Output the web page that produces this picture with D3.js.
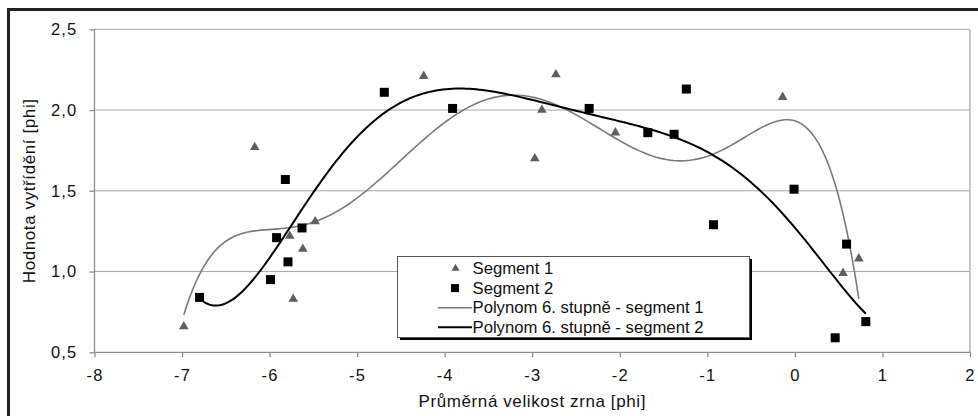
<!DOCTYPE html>
<html>
<head>
<meta charset="utf-8">
<script src="https://cdn.jsdelivr.net/npm/d3@7"></script>
<style>
  body { margin: 0; background: #fff; }
  svg text { font-family: 'Liberation Sans', Arial, sans-serif; fill: #111; }
</style>
</head>
<body>
<div id="chart"></div>
<script>
// data
var seg1X = [-6.98, -6.17, -5.77, -5.73, -5.62, -5.48, -4.24, -2.97, -2.89, -2.73, -2.05, -0.14, 0.55, 0.73]
var seg1Y = [0.66, 1.77, 1.22, 0.83, 1.14, 1.31, 2.21, 1.70, 2.00, 2.22, 1.86, 2.08, 0.99, 1.08]

var seg2X = [-6.80, -5.99, -5.92, -5.82, -5.79, -5.63, -4.69, -3.91, -2.35, -1.68, -1.38, -1.24, -0.93, -0.01, 0.46, 0.59, 0.81]
var seg2Y = [0.84, 0.95, 1.21, 1.57, 1.06, 1.27, 2.11, 2.01, 2.01, 1.86, 1.85, 2.13, 1.29, 1.51, 0.59, 1.17, 0.69]

var xTicks = [-8, -7, -6, -5, -4, -3, -2, -1, 0, 1, 2]
var yTicks = [0.5, 1.0, 1.5, 2.0, 2.5]

var legendLabels = ['Segment 1', 'Segment 2', 'Polynom 6. stupně - segment 1', 'Polynom 6. stupně - segment 2']

var xTitle = 'Průměrná velikost zrna [phi]'
var yTitle = 'Hodnota vytřídění [phi]'

// Set up margin/height/width
var totalWidth = 978
var totalHeight = 416
var margin = { top: 29.3, left: 94.5, right: 8, bottom: 63.7 }
var width = totalWidth - margin.left - margin.right
var height = totalHeight - margin.top - margin.bottom

var svg = d3
  .select('#chart')
  .append('svg')
  .attr('width', totalWidth)
  .attr('height', totalHeight)

// outer frame (only top and left visible)
svg
  .append('path')
  .attr('d', 'M8.5,' + totalHeight + 'V9.5H' + totalWidth)
  .attr('fill', 'none')
  .attr('stroke', '#222')
  .attr('stroke-width', 3)

var g = svg
  .append('g')
  .attr('transform', 'translate(' + margin.left + ',' + margin.top + ')')

var xPositionScale = d3
  .scaleLinear()
  .domain([-8, 2])
  .range([0, width])
var yPositionScale = d3
  .scaleLinear()
  .domain([0.5, 2.5])
  .range([height, 0])

// czech decimal comma, plain hyphen for minus
var fmtY = function(d) {
  return d.toFixed(1).replace('.', ',')
}
var fmtX = function(d) {
  return String(d)
}

// gridlines
g.selectAll('.grid')
  .data(yTicks.slice(1))
  .enter()
  .append('line')
  .attr('class', 'grid')
  .attr('x1', 0)
  .attr('x2', width)
  .attr('y1', function(d) {
    return yPositionScale(d)
  })
  .attr('y2', function(d) {
    return yPositionScale(d)
  })
  .attr('stroke', '#a6a6a6')
  .attr('stroke-width', 1)

// right border of plot area
g.append('line')
  .attr('x1', width)
  .attr('x2', width)
  .attr('y1', 0)
  .attr('y2', height)
  .attr('stroke', '#b4b4b4')
  .attr('stroke-width', 1.5)

var xAxis = d3
  .axisBottom(xPositionScale)
  .tickValues(xTicks)
  .tickSize(5)
  .tickPadding(12)
  .tickFormat(fmtX)

var xAxisG = g
  .append('g')
  .attr('class', 'axis x-axis')
  .attr('transform', 'translate(0,' + height + ')')
  .call(xAxis)

var yAxis = d3
  .axisLeft(yPositionScale)
  .tickValues(yTicks)
  .tickSize(5)
  .tickPadding(12)
  .tickFormat(fmtY)

var yAxisG = g
  .append('g')
  .attr('class', 'axis y-axis')
  .call(yAxis)

svg.selectAll('.axis path, .axis line').attr('stroke', '#8c8c8c').attr('stroke-width', 1.3)
svg.selectAll('.axis text')
  .attr('font-size', 16.5)
  .attr('letter-spacing', 1.2)
  .style('font-family', "'Liberation Sans', Arial, sans-serif")
  .attr('fill', '#111')
xAxisG.selectAll('path.domain').attr('d', 'M0,0H' + width)
yAxisG.selectAll('path.domain').attr('d', 'M0,0V' + height)

// axis titles
svg
  .append('text')
  .text(xTitle)
  .attr('x', margin.left + width / 2)
  .attr('y', 406.5)
  .attr('text-anchor', 'middle')
  .attr('font-size', 17)
  .attr('letter-spacing', 0.6)

svg
  .append('text')
  .text(yTitle)
  .attr('transform', 'translate(35,' + (margin.top + height / 2) + ') rotate(-90)')
  .attr('text-anchor', 'middle')
  .attr('font-size', 17)
  .attr('letter-spacing', 0.6)

// polynomial trendline (least squares, degree 6)
function polyfit(xs, ys, deg) {
  var mx = d3.mean(xs)
  var sx = d3.deviation(xs)
  var n = deg + 1
  var A = []
  var b = []
  for (var i = 0; i < n; i++) {
    A.push(new Array(n).fill(0))
    b.push(0)
  }
  xs.forEach(function(x, k) {
    var t = (x - mx) / sx
    var pw = []
    for (var i = 0; i < n; i++) pw.push(Math.pow(t, i))
    for (var i = 0; i < n; i++) {
      b[i] += pw[i] * ys[k]
      for (var j = 0; j < n; j++) A[i][j] += pw[i] * pw[j]
    }
  })
  // gaussian elimination
  for (var c = 0; c < n; c++) {
    var p = c
    for (var r = c + 1; r < n; r++) if (Math.abs(A[r][c]) > Math.abs(A[p][c])) p = r
    var tmp = A[c]; A[c] = A[p]; A[p] = tmp
    var tb = b[c]; b[c] = b[p]; b[p] = tb
    for (var r = c + 1; r < n; r++) {
      var f = A[r][c] / A[c][c]
      for (var j = c; j < n; j++) A[r][j] -= f * A[c][j]
      b[r] -= f * b[c]
    }
  }
  var coef = new Array(n).fill(0)
  for (var r = n - 1; r >= 0; r--) {
    var s = b[r]
    for (var j = r + 1; j < n; j++) s -= A[r][j] * coef[j]
    coef[r] = s / A[r][r]
  }
  return function(x) {
    var t = (x - mx) / sx
    var v = 0
    for (var i = n - 1; i >= 0; i--) v = v * t + coef[i]
    return v
  }
}

function trend(xs, ys) {
  var f = polyfit(xs, ys, 6)
  var lo = d3.min(xs)
  var hi = d3.max(xs)
  return d3.range(0, 201).map(function(i) {
    var x = lo + (hi - lo) * i / 200
    return { x: x, y: f(x) }
  })
}

var line = d3
  .line()
  .x(function(d) {
    return xPositionScale(d.x)
  })
  .y(function(d) {
    return yPositionScale(d.y)
  })

g.append('path')
  .datum(trend(seg1X, seg1Y))
  .attr('d', line)
  .attr('fill', 'none')
  .attr('stroke', '#7a7a7a')
  .attr('stroke-width', 1.6)

g.append('path')
  .datum(trend(seg2X, seg2Y))
  .attr('d', line)
  .attr('fill', 'none')
  .attr('stroke', '#000')
  .attr('stroke-width', 2)

var triangle = d3.symbol().type(d3.symbolTriangle).size(40)

g.selectAll('.seg1')
  .data(seg1X)
  .enter()
  .append('path')
  .attr('class', 'seg1')
  .attr('d', triangle)
  .attr('transform', function(d, i) {
    return 'translate(' + xPositionScale(d) + ',' + yPositionScale(seg1Y[i]) + ')'
  })
  .attr('fill', '#5e5e5e')

g.selectAll('.seg2')
  .data(seg2X)
  .enter()
  .append('rect')
  .attr('class', 'seg2')
  .attr('x', function(d) {
    return xPositionScale(d) - 4.5
  })
  .attr('y', function(d, i) {
    return yPositionScale(seg2Y[i]) - 4.5
  })
  .attr('width', 9)
  .attr('height', 9)
  .attr('fill', '#000')

// legend
var legend = svg.append('g').attr('transform', 'translate(397,256)')
var lw = 352
var lh = 81

legend
  .append('rect')
  .attr('x', 3)
  .attr('y', 3)
  .attr('width', lw)
  .attr('height', lh)
  .attr('fill', '#000')
legend
  .append('rect')
  .attr('x', 0.5)
  .attr('y', 0.5)
  .attr('width', lw)
  .attr('height', lh)
  .attr('fill', '#fff')
  .attr('stroke', '#555')
  .attr('stroke-width', 1)

var rows = legend
  .selectAll('.row')
  .data(legendLabels)
  .enter()
  .append('g')
  .attr('class', 'row')
  .attr('transform', function(d, i) {
    return 'translate(0,' + (12.5 + i * 19.6) + ')'
  })

rows
  .append('text')
  .text(function(d) {
    return d
  })
  .attr('x', 75.5)
  .attr('y', 5.5)
  .attr('font-size', 16.7)

rows
  .filter(function(d, i) {
    return i === 0
  })
  .append('path')
  .attr('d', d3.symbol().type(d3.symbolTriangle).size(28))
  .attr('transform', 'translate(58.5,0)')
  .attr('fill', '#5e5e5e')

rows
  .filter(function(d, i) {
    return i === 1
  })
  .append('rect')
  .attr('x', 54)
  .attr('y', -4)
  .attr('width', 8)
  .attr('height', 8)
  .attr('fill', '#000')

rows
  .filter(function(d, i) {
    return i >= 2
  })
  .append('line')
  .attr('x1', 41)
  .attr('x2', 75)
  .attr('y1', 0)
  .attr('y2', 0)
  .attr('stroke', function(d, i) {
    return i === 0 ? '#7a7a7a' : '#000'
  })
  .attr('stroke-width', function(d, i) {
    return i === 0 ? 1.6 : 2
  })
</script>
</body>
</html>
